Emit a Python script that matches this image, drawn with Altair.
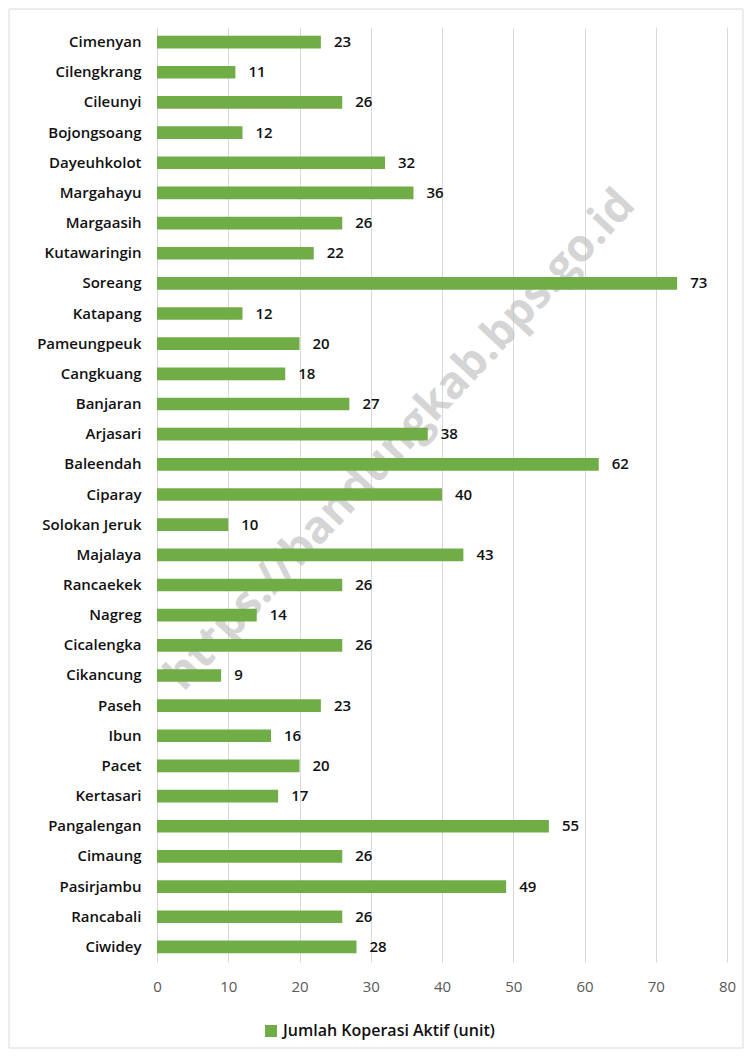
import altair as alt
import pandas as pd

categories = ["Cimenyan", "Cilengkrang", "Cileunyi", "Bojongsoang", "Dayeuhkolot",
              "Margahayu", "Margaasih", "Kutawaringin", "Soreang", "Katapang",
              "Pameungpeuk", "Cangkuang", "Banjaran", "Arjasari", "Baleendah",
              "Ciparay", "Solokan Jeruk", "Majalaya", "Rancaekek", "Nagreg",
              "Cicalengka", "Cikancung", "Paseh", "Ibun", "Pacet", "Kertasari",
              "Pangalengan", "Cimaung", "Pasirjambu", "Rancabali", "Ciwidey"]
values = [23, 11, 26, 12, 32, 36, 26, 22, 73, 12, 20, 18, 27, 38, 62, 40, 10, 43,
          26, 14, 26, 9, 23, 16, 20, 17, 55, 26, 49, 26, 28]
series_name = "Jumlah Koperasi Aktif (unit)"
x_ticks = [0, 10, 20, 30, 40, 50, 60, 70, 80]
watermark = "https://bandungkab.bps.go.id"

df = pd.DataFrame({"kecamatan": categories, "jumlah": values,
                   "seri": [series_name] * len(categories)})

W, H = 570, 935
FONT = "Open Sans"

y_enc = alt.Y("kecamatan:N", sort=categories, title=None,
              scale=alt.Scale(paddingInner=0.58, paddingOuter=0.29),
              axis=alt.Axis(domain=False, ticks=False, labelPadding=16,
                            labelFontSize=15, labelFontWeight=600, labelColor="#111111",
                            labelFont=FONT, grid=False))
x_enc = alt.X("jumlah:Q", title=None,
              scale=alt.Scale(domain=[0, 80], nice=False),
              axis=alt.Axis(values=x_ticks, domain=False, ticks=False, labelPadding=17,
                            labelFlush=False, labelFontSize=15, labelColor="#595959",
                            labelFont=FONT, grid=True, gridColor="#d9d9d9", gridWidth=1))

base = alt.Chart(df)

border = alt.Chart(pd.DataFrame({"a": [0]})).mark_rect(
    fill=None, stroke="#d9d9d9", strokeWidth=1
).encode(x=alt.value(-148), x2=alt.value(W + 16), y=alt.value(-18), y2=alt.value(H + 86))

wm = alt.Chart(pd.DataFrame({"t": [watermark]})).mark_text(
    angle=313, font=FONT, fontSize=45, fontWeight="bold", color="#c0c0c0",
    opacity=0.65, align="center", baseline="middle"
).encode(text="t:N", x=alt.value(243), y=alt.value(413))

bars = base.mark_bar().encode(
    y=y_enc, x=x_enc,
    color=alt.Color("seri:N", scale=alt.Scale(range=["#70AD47"]), title=None,
                    legend=alt.Legend(orient="none", legendX=106, legendY=996,
                                      symbolType="square", symbolSize=144,
                                      symbolStrokeWidth=0, labelFontSize=16,
                                      labelFont=FONT, labelFontWeight=600,
                                      labelColor="#111111", labelOffset=4,
                                      labelLimit=400))
)

labels = base.mark_text(align="left", baseline="middle", dx=13, font=FONT,
                        fontSize=15, fontWeight=600, color="#111111").encode(
    y=alt.Y("kecamatan:N", sort=categories),
    x=alt.X("jumlah:Q"),
    text="jumlah:Q")

chart = alt.layer(wm, bars, labels, border).properties(
    width=W, height=H,
    autosize=alt.AutoSizeParams(type="none"),
    padding={"left": 149, "top": 19, "right": 17, "bottom": 87},
).configure_view(stroke=None)

chart.save("out.html", embed_options={"renderer": "svg", "actions": False})
